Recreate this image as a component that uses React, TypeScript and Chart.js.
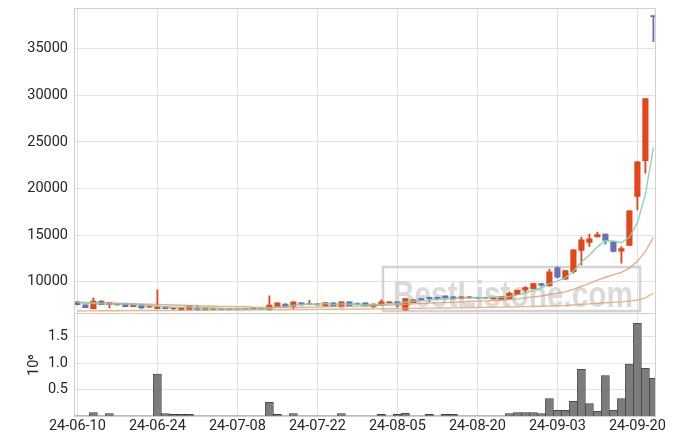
import React, { useEffect, useRef } from 'react';
import { Chart, registerables } from 'chart.js';

Chart.register(...registerables);

// Trading days (index axis)
const dates = [
  '24-06-10', '24-06-11', '24-06-12', '24-06-13', '24-06-14', '24-06-17', '24-06-18', '24-06-19', '24-06-20', '24-06-21',
  '24-06-24', '24-06-25', '24-06-26', '24-06-27', '24-06-28', '24-07-01', '24-07-02', '24-07-03', '24-07-04', '24-07-05',
  '24-07-08', '24-07-09', '24-07-10', '24-07-11', '24-07-12', '24-07-15', '24-07-16', '24-07-17', '24-07-18', '24-07-19',
  '24-07-22', '24-07-23', '24-07-24', '24-07-25', '24-07-26', '24-07-29', '24-07-30', '24-07-31', '24-08-01', '24-08-02',
  '24-08-05', '24-08-06', '24-08-07', '24-08-08', '24-08-09', '24-08-12', '24-08-13', '24-08-14', '24-08-16', '24-08-19',
  '24-08-20', '24-08-21', '24-08-22', '24-08-23', '24-08-26', '24-08-27', '24-08-28', '24-08-29', '24-08-30', '24-09-02',
  '24-09-03', '24-09-04', '24-09-05', '24-09-06', '24-09-09', '24-09-10', '24-09-11', '24-09-12', '24-09-13', '24-09-19',
  '24-09-20', '24-09-23', '24-09-24',
];

const xTickIndices = [0, 10, 20, 30, 40, 50, 60, 70];
const priceTicks = [10000, 15000, 20000, 25000, 30000, 35000];
const volumeTicks = [500000, 1000000, 1500000];

const opens = [
  7820, 7500, 7100, 7920, 7530, 7500, 7680, 7320, 7530, 7250,
  7100, 7320, 7100, 6960, 6960, 7210, 6960, 6990, 7100, 6990,
  7100, 7030, 7100, 7000, 6960, 7250, 7600, 7350, 7710, 7530,
  7600, 7390, 7710, 7280, 7820, 7680, 7710, 7320, 7500, 7710,
  7820, 6960, 7750, 8180, 8320, 8320, 8460, 8360, 8180, 8250,
  8320, 8210, 8140, 8100, 8180, 8610, 9110, 9250, 9790, 9540,
  11480, 10260, 11080, 13340, 14200, 14810, 15100, 14240, 13270, 13880,
  19140, 22980, 38500,
];
const highs = [
  7850, 7520, 8250, 7950, 7760, 7620, 7700, 7550, 7550, 7420,
  9110, 7340, 7230, 7230, 7410, 7460, 7230, 7120, 7120, 7120,
  7120, 7140, 7120, 7080, 8460, 7730, 7640, 7840, 7740, 8000,
  7640, 7770, 7740, 7840, 7860, 7720, 7730, 7620, 8030, 7850,
  7840, 8200, 8060, 8200, 8340, 8340, 8480, 8380, 8380, 8380,
  8340, 8340, 8340, 8410, 8890, 9090, 9470, 9810, 9810, 11330,
  11620, 11210, 13430, 14770, 15100, 15310, 15120, 14260, 13770, 17620,
  22890, 29660, 38500,
];
const lows = [
  7500, 7190, 7080, 7510, 7170, 7480, 7300, 7300, 7100, 7230,
  7080, 7080, 6960, 6940, 6940, 6940, 6940, 6970, 6970, 6970,
  6980, 7010, 7030, 6980, 6940, 7230, 7260, 7100, 7480, 7510,
  7480, 7370, 7330, 7260, 7370, 7510, 7370, 7210, 7480, 7690,
  7240, 6940, 7730, 8010, 7850, 8000, 8230, 8120, 8160, 8230,
  8190, 8190, 8120, 8080, 8160, 8590, 8900, 9230, 9470, 9520,
  10370, 10240, 10900, 11800, 13770, 14790, 14020, 13160, 11980, 13860,
  17710, 21650, 35750,
];
const closes = [
  7530, 7210, 7920, 7530, 7740, 7600, 7320, 7530, 7170, 7390,
  7350, 7100, 7210, 7210, 7390, 6960, 7210, 7100, 7000, 7100,
  7000, 7100, 7050, 7050, 7490, 7710, 7280, 7820, 7500, 7640,
  7500, 7750, 7350, 7820, 7390, 7530, 7390, 7600, 7820, 7820,
  7600, 8180, 8030, 8030, 8180, 8180, 8250, 8140, 8360, 8360,
  8210, 8320, 8320, 8390, 8750, 9070, 9360, 9790, 9610, 11050,
  10470, 11190, 13410, 14490, 14590, 15060, 14410, 13230, 13550, 17600,
  22870, 29640, 38450,
];
const volumes = [
  3000, 3000, 64000, 3000, 45000, 3000, 3000, 3000, 3000, 3000,
  790000, 45000, 30000, 30000, 30000, 3000, 3000, 3000, 3000, 3000,
  3000, 3000, 3000, 3000, 260000, 30000, 3000, 45000, 3000, 3000,
  3000, 3000, 3000, 45000, 3000, 3000, 3000, 3000, 30000, 3000,
  30000, 50000, 3000, 3000, 30000, 3000, 30000, 30000, 3000, 3000,
  3000, 3000, 3000, 3000, 45000, 65000, 65000, 65000, 45000, 330000,
  108000, 108000, 278000, 880000, 235000, 89000, 765000, 108000, 330000, 980000,
  1750000, 900000, 710000,
];
const ma5 = [
  7780, 7650, 7660, 7610, 7586, 7600, 7622, 7544, 7472, 7402,
  7352, 7308, 7244, 7252, 7252, 7174, 7196, 7174, 7132, 7074,
  7082, 7060, 7050, 7060, 7138, 7280, 7316, 7470, 7560, 7590,
  7548, 7642, 7548, 7612, 7562, 7568, 7496, 7546, 7546, 7632,
  7646, 7804, 7890, 7932, 8004, 8120, 8134, 8156, 8222, 8258,
  8264, 8278, 8314, 8320, 8398, 8570, 8778, 9072, 9316, 9776,
  10056, 10422, 11146, 12122, 12830, 13748, 14392, 14356, 14168, 14770,
  16332, 19378, 24422,
];
const ma20 = [
  7780, 7760, 7740, 7720, 7700, 7680, 7655, 7630, 7600, 7575,
  7550, 7520, 7490, 7460, 7430, 7400, 7375, 7350, 7340, 7329,
  7302, 7297, 7253, 7229, 7217, 7222, 7220, 7235, 7251, 7264,
  7271, 7304, 7311, 7341, 7341, 7370, 7379, 7404, 7445, 7481,
  7511, 7565, 7614, 7663, 7697, 7721, 7769, 7785, 7828, 7864,
  7900, 7928, 7977, 8005, 8073, 8150, 8249, 8358, 8448, 8609,
  8753, 8903, 9172, 9495, 9816, 10160, 10468, 10722, 10982, 11444,
  12177, 13243, 14750,
];
const ma120 = [
  6850, 6855, 6860, 6865, 6870, 6875, 6880, 6885, 6890, 6895,
  6900, 6905, 6910, 6915, 6920, 6925, 6930, 6935, 6940, 6945,
  6950, 6955, 6960, 6965, 6970, 6978, 6985, 6992, 7000, 7008,
  7015, 7022, 7030, 7038, 7046, 7054, 7062, 7070, 7080, 7090,
  7100, 7112, 7124, 7136, 7148, 7160, 7172, 7184, 7196, 7208,
  7220, 7234, 7248, 7262, 7276, 7290, 7310, 7330, 7350, 7380,
  7410, 7440, 7490, 7550, 7610, 7670, 7725, 7770, 7820, 7900,
  8030, 8260, 8750,
];

const UP = '#e4461a';
const DOWN = '#6a70b6';
const GRID = '#e3e3e3';
const FRAME = '#d0d0d0';
const TEXT = '#262626';
const FONT = { family: 'Roboto', size: 14.5 };

const framePlugin = {
  id: 'frameAndMark',
  beforeDatasetsDraw(chart: any) {
    const { ctx, chartArea: a } = chart;
    ctx.save();
    const bx = a.left + 308;
    const by = a.top + 258;
    const bw = 257;
    const bh = 44;
    ctx.strokeStyle = 'rgba(200,200,200,0.8)';
    ctx.lineWidth = 2.5;
    ctx.strokeRect(bx, by, bw, bh);
    ctx.font = 'bold 37px "Liberation Sans"';
    const text = 'BestListone.com';
    const w = ctx.measureText(text).width;
    ctx.translate(bx + 10, by + 40);
    ctx.scale(240 / w, 1);
    ctx.fillStyle = 'rgba(212,212,212,0.85)';
    ctx.textBaseline = 'alphabetic';
    ctx.fillText(text, 0, 0);
    ctx.restore();
  },
  afterDraw(chart: any) {
    const { ctx, chartArea: a, scales } = chart;
    ctx.save();
    ctx.strokeStyle = FRAME;
    ctx.lineWidth = 1;
    ctx.strokeRect(Math.round(a.left) - 0.5, Math.round(a.top) - 0.5, Math.round(a.right - a.left) + 1, Math.round(a.bottom - a.top) + 1);
    const yb = Math.round(scales.y.bottom) - 0.5;
    ctx.beginPath();
    ctx.moveTo(a.left, yb);
    ctx.lineTo(a.right, yb);
    ctx.stroke();
    ctx.restore();
  },
};

export default function App() {
  const ref = useRef<HTMLCanvasElement>(null);

  useEffect(() => {
    document.body.style.margin = '0';
    const candleColors = closes.map((c, i) => (c >= opens[i] ? UP : DOWN));
    const idx = dates.map((_, i) => i);
    const noPad = (s: any) => {
      s.paddingTop = 0;
      s.paddingBottom = 0;
      s.paddingLeft = 0;
      s.paddingRight = 0;
    };
    const chart = new Chart(ref.current as HTMLCanvasElement, {
      type: 'bar',
      data: {
        datasets: [
          {
            type: 'line',
            label: 'MA5',
            data: idx.map((i) => ({ x: i, y: ma5[i] })),
            borderColor: 'rgba(120,212,176,0.9)',
            borderWidth: 1.4,
            pointRadius: 0,
            yAxisID: 'y',
            xAxisID: 'x',
            order: 0,
          } as any,
          {
            type: 'line',
            label: 'MA20',
            data: idx.map((i) => ({ x: i, y: ma20[i] })),
            borderColor: 'rgba(230,150,110,0.8)',
            borderWidth: 1.4,
            pointRadius: 0,
            yAxisID: 'y',
            xAxisID: 'x',
            order: 0,
          } as any,
          {
            type: 'line',
            label: 'MA120',
            data: idx.map((i) => ({ x: i, y: ma120[i] })),
            borderColor: 'rgba(230,170,110,0.85)',
            borderWidth: 1.4,
            pointRadius: 0,
            yAxisID: 'y',
            xAxisID: 'x',
            order: 0,
          } as any,
          {
            type: 'bar',
            label: 'body',
            data: idx.map((i) => ({ x: i, y: [opens[i], closes[i]] })),
            backgroundColor: candleColors,
            borderWidth: 0,
            barThickness: 5.5,
            minBarLength: 1,
            grouped: false,
            yAxisID: 'y',
            xAxisID: 'x',
            order: 1,
          } as any,
          {
            type: 'bar',
            label: 'wick',
            data: idx.map((i) => ({ x: i, y: [lows[i], highs[i]] })),
            backgroundColor: candleColors,
            borderWidth: 0,
            barThickness: 1.2,
            grouped: false,
            yAxisID: 'y',
            xAxisID: 'x',
            order: 2,
          } as any,
          {
            type: 'bar',
            label: 'volume',
            data: idx.map((i) => ({ x: i, y: volumes[i] })),
            backgroundColor: '#7c7c7c',
            borderColor: '#3c3c3c',
            borderWidth: 0.8,
            barThickness: 8,
            grouped: false,
            yAxisID: 'yv',
            xAxisID: 'x',
            order: 3,
          } as any,
        ],
      },
      options: {
        animation: false,
        responsive: false,
        devicePixelRatio: 1,
        layout: { padding: { left: 0, right: 20, top: 9, bottom: 0 } },
        font: FONT,
        plugins: { legend: { display: false }, tooltip: { enabled: false } },
        scales: {
          x: {
            type: 'linear',
            min: -0.3,
            max: 72.2,
            offset: false,
            afterBuildTicks: (s: any) => {
              s.ticks = xTickIndices.map((v) => ({ value: v }));
            },
            afterFit: (s: any) => {
              s.height = 28;
              noPad(s);
            },
            ticks: {
              autoSkip: false,
              maxRotation: 0,
              padding: 2,
              color: TEXT,
              font: FONT,
              callback: (v: any) => dates[v] ?? '',
            },
            grid: { color: GRID, drawTicks: false, offset: false },
            border: { display: false },
          },
          y: {
            type: 'linear',
            position: 'left',
            stack: 'panels',
            stackWeight: 3,
            weight: 2,
            min: 6495,
            max: 39270,
            afterBuildTicks: (s: any) => {
              s.ticks = priceTicks.map((v) => ({ value: v }));
            },
            afterFit: (s: any) => {
              s.width = 75;
              noPad(s);
            },
            ticks: {
              padding: 7,
              color: TEXT,
              font: FONT,
              callback: (v: any) => String(v),
            },
            grid: { color: GRID, drawTicks: false },
            border: { display: false },
          },
          yv: {
            type: 'linear',
            position: 'left',
            stack: 'panels',
            stackWeight: 1,
            weight: 1,
            min: 0,
            max: 1920000,
            afterBuildTicks: (s: any) => {
              s.ticks = volumeTicks.map((v) => ({ value: v }));
            },
            afterFit: (s: any) => {
              s.width = 75;
              noPad(s);
            },
            ticks: {
              padding: 7,
              color: TEXT,
              font: FONT,
              callback: (v: any) => (v / 1e6).toFixed(1),
            },
            title: {
              display: true,
              text: '10⁶',
              color: TEXT,
              font: FONT,
              padding: { top: 26, bottom: 0 },
            },
            grid: { color: GRID, drawTicks: false },
            border: { display: false },
          },
        },
      } as any,
      plugins: [framePlugin],
    });
    return () => chart.destroy();
  }, []);

  return (
    <div style={{ position: 'absolute', left: 0, top: 0, width: 675, height: 444 }}>
      <canvas ref={ref} width={675} height={444} />
    </div>
  );
}
